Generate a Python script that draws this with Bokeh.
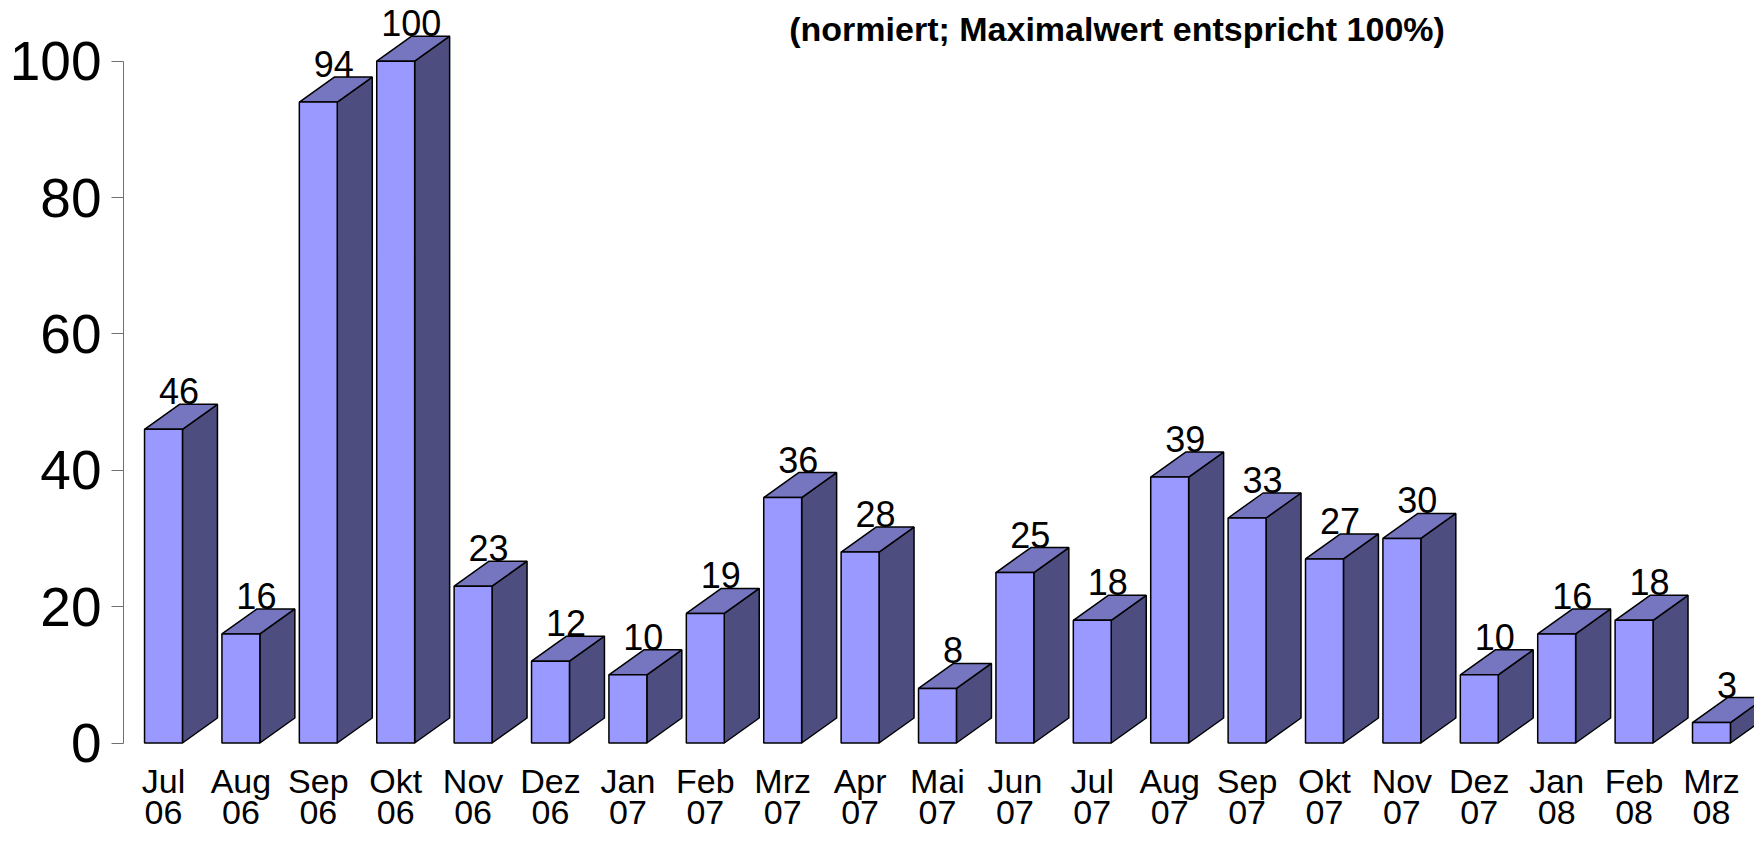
from bokeh.plotting import figure
from bokeh.models import ColumnDataSource, FixedTicker, Label
from bokeh.core.properties import value
from bokeh.embed import file_html
from bokeh.resources import INLINE

# ---- data ----
months = ["Jul", "Aug", "Sep", "Okt", "Nov", "Dez", "Jan", "Feb", "Mrz", "Apr", "Mai",
          "Jun", "Jul", "Aug", "Sep", "Okt", "Nov", "Dez", "Jan", "Feb", "Mrz"]
years = ["06", "06", "06", "06", "06", "06", "07", "07", "07", "07", "07",
         "07", "07", "07", "07", "07", "07", "07", "08", "08", "08"]
values = [46, 16, 94, 100, 23, 12, 10, 19, 36, 28, 8, 25, 18, 39, 33, 27, 30, 10, 16, 18, 3]
y_ticks = [0, 20, 40, 60, 80, 100]
title_text = "(normiert; Maximalwert entspricht 100%)"

# ---- geometry (data units) ----
half_w = 0.245      # half width of front face
dxd = 0.452         # depth offset in x
dyd = 3.667         # depth offset in y

idx = list(range(len(values)))
front = ColumnDataSource(dict(
    left=[i - half_w for i in idx], right=[i + half_w for i in idx],
    top=values, bottom=[0] * len(values)))

top_xs, top_ys, side_xs, side_ys = [], [], [], []
for i, v in zip(idx, values):
    l, r = i - half_w, i + half_w
    top_xs.append([l, r, r + dxd, l + dxd])
    top_ys.append([v, v, v + dyd, v + dyd])
    side_xs.append([r, r + dxd, r + dxd, r])
    side_ys.append([0, dyd, v + dyd, v])

FONT = value("Liberation Sans")

p = figure(width=1754, height=834, output_backend="svg", toolbar_location=None,
           x_range=(-0.5168, 20.556), y_range=(-13.42, 108.90),
           x_axis_location=None, min_border_left=123, min_border_right=0,
           min_border_top=0, min_border_bottom=0, outline_line_color=None,
           background_fill_color="white", border_fill_color="white")
p.xgrid.visible = False
p.ygrid.visible = False

p.patches(side_xs, side_ys, fill_color="#4D4D80", line_color="black", line_width=1.5)
p.patches(top_xs, top_ys, fill_color="#7676C0", line_color="black", line_width=1.5)
p.quad(left="left", right="right", top="top", bottom="bottom", source=front,
       fill_color="#9999FF", line_color="black", line_width=1.5)

# value labels
p.text(x=[i + 0.2 for i in idx], y=[v + dyd + 1.9 for v in values],
       text=[str(v) for v in values], text_font=FONT, text_font_size="36px",
       text_align="center", text_baseline="alphabetic", text_color="black")

# category labels (two lines)
p.text(x=idx, y=[-5.5] * len(idx), text=months, text_font=FONT, text_font_size="34px",
       text_align="center", text_baseline="alphabetic", text_color="black")
p.text(x=idx, y=[-10.2] * len(idx), text=years, text_font=FONT, text_font_size="34px",
       text_align="center", text_baseline="alphabetic", text_color="black")

# y axis
ax = p.yaxis[0]
ax.ticker = FixedTicker(ticks=y_ticks)
ax.bounds = (0, 100)
ax.axis_line_color = "#707070"
ax.axis_line_width = 1
ax.major_tick_line_color = "#707070"
ax.major_tick_out = 12
ax.major_tick_in = 0
ax.minor_tick_line_color = None
ax.major_label_text_font = "Liberation Sans"
ax.major_label_text_font_size = "55px"
ax.major_label_text_color = "black"
ax.major_label_standoff = 10

title = Label(x=12.32, y=104.66, text=title_text, text_font="Liberation Sans",
              text_font_style="bold", text_font_size="34px", text_align="center",
              text_baseline="alphabetic", text_color="black")
p.add_layout(title)

open("out.html", "w").write(file_html(p, INLINE))
